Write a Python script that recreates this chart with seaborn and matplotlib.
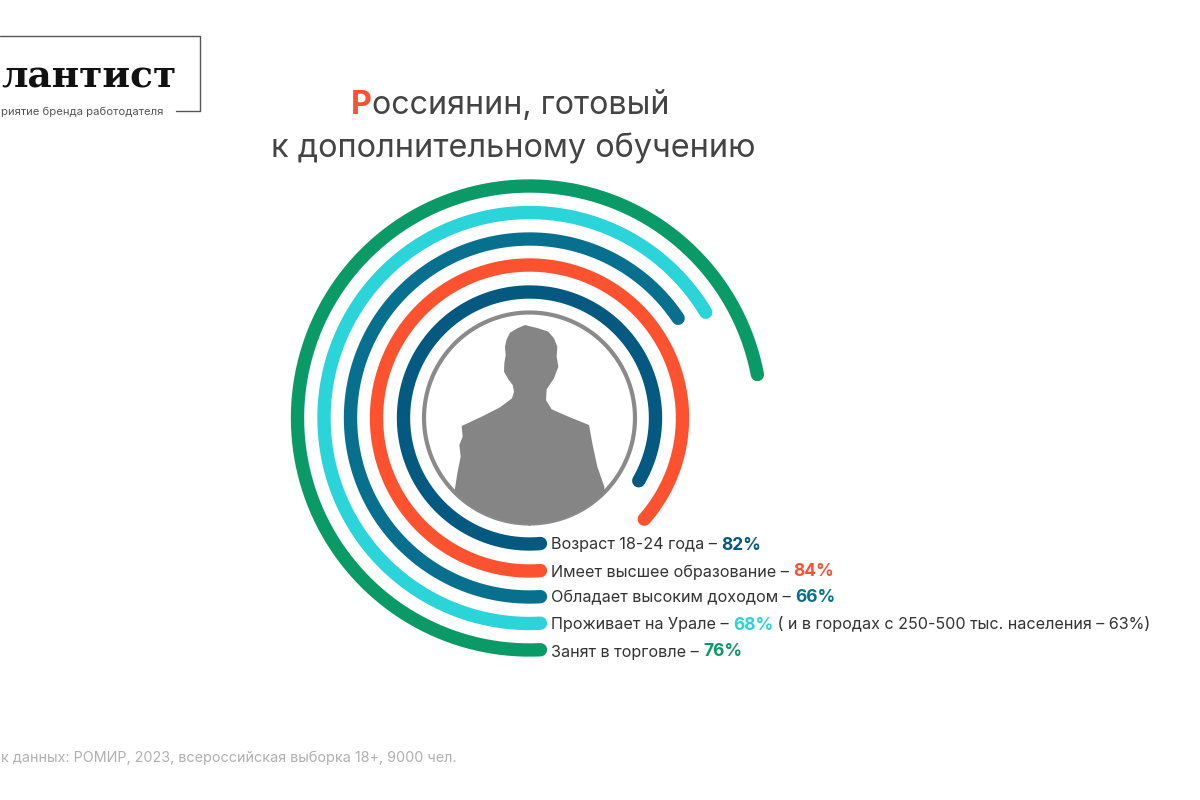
import numpy as np
import pandas as pd
import matplotlib.pyplot as plt
from matplotlib.patches import Circle, Polygon
import seaborn as sns

# inner ring first
labels = ['Возраст 18-24 года – ', 'Имеет высшее образование – ', 'Обладает высоким доходом – ',
          'Проживает на Урале – ', 'Занят в торговле – ']
shown_pct = ['82%', '84%', '66%', '68%', '76%']
# how far each arc really runs in the picture, percent of a full turn
arc_pct = [83.3, 86.5, 65.6, 66.4, 72.0]
colors = ['#03597f', '#fd5230', '#07708f', '#2bd4d9', '#0a9a68']
note = ' ( и в городах с 250-500 тыс. населения – 63%)'

title_first = 'Р'
title_rest = 'оссиянин, готовый'
title_line2 = 'к дополнительному обучению'
logo = 'лантист'
logo_sub = 'риятие бренда работодателя'
source = 'к данных: РОМИР, 2023, всероссийская выборка 18+, 9000 чел.'

radii = [126, 153, 179, 205.5, 232]
cx, cy, rmax = 529.5, 418, 250

sns.set_theme(style='white')
plt.rcParams['font.family'] = ['Inter', 'DejaVu Sans']
fig = plt.figure(figsize=(12, 8), dpi=100, facecolor='white')

# rings, radius is in pixels
ax = fig.add_axes([(cx - rmax) / 1200, (800 - cy - rmax) / 800, 2 * rmax / 1200, 2 * rmax / 800], projection='polar')
ax.set_theta_zero_location('S')
ax.set_theta_direction(-1)
rows = []
for lab, pct, r in zip(labels, arc_pct, radii):
    # tail of 11 px past the bottom towards the label
    th = np.linspace(-11 / r, pct / 100 * 2 * np.pi, 400)
    rows.append(pd.DataFrame({'theta': th, 'r': r, 'label': lab}))
df = pd.concat(rows)
sns.lineplot(data=df, x='theta', y='r', hue='label', palette=dict(zip(labels, colors)), estimator=None,
             sort=False, linewidth=9.6, legend=False, ax=ax, solid_capstyle='round')
ax.plot(np.linspace(0, 2 * np.pi, 400), np.full(400, 105.5), color='#8a8a8a', lw=3)
ax.set_ylim(0, rmax)
ax.set_axis_off()

# overlay in pixel coordinates
ov = fig.add_axes([0, 0, 1, 1])
ov.set_xlim(0, 1200)
ov.set_ylim(800, 0)
ov.set_axis_off()
ov.patch.set_alpha(0)

person = np.array([(345, 45), (322, 55), (300, 68), (290, 88), (285, 110), (287, 135), (283, 160), (282, 185), (295, 208),
                   (308, 225), (312, 245), (306, 265), (270, 292), (215, 320), (155, 348), (158, 380), (148, 405),
                   (152, 440), (142, 490), (135, 535), (135, 700), (590, 700), (583, 530), (562, 470), (548, 405),
                   (537, 345), (480, 322), (425, 298), (408, 270), (410, 238), (432, 205), (445, 170), (440, 140),
                   (442, 110), (432, 85), (415, 65), (385, 55)]) / 3 + [410, 310]
body = Polygon(person, closed=True, fc='#858585', ec='none')
ov.add_patch(body)
body.set_clip_path(Circle((cx + 0.5, cy), 105.5, transform=ov.transData))

rend = fig.canvas.get_renderer()


def after(txt):
    # right edge of a text in overlay pixels
    return txt.get_window_extent(rend).x1


# logo
ov.plot([0, 200, 200, 176], [35.5, 35.5, 111, 111], color='#555555', lw=1)
ov.text(176, 88, logo, family=['DejaVu Serif'], fontweight='bold', fontsize=27, color='#111111', ha='right', va='baseline')
ov.text(163, 115, logo_sub, fontsize=8.1, color='#555555', ha='right', va='baseline')

# title
t = ov.text(351, 114, title_first, fontsize=23.2, color='#fd5230', fontweight='bold', va='baseline')
ov.text(after(t), 114, title_rest, fontsize=23.2, color='#444444', va='baseline')
ov.text(513, 158, title_line2, fontsize=23.4, color='#444444', ha='center', va='baseline')

# labels next to the ring ends
for i, y in enumerate([549.5, 576.5, 602.5, 629.5, 656.5]):
    a = ov.text(551, y, labels[i].rstrip() + ' ', fontsize=11.65, color='#333333', va='baseline')
    b = ov.text(after(a), y, shown_pct[i], fontsize=12.5, fontweight='bold', color=colors[i], va='baseline')
    if i == 3:
        ov.text(after(b), y, note, fontsize=11.6, color='#333333', va='baseline')

ov.text(1, 762, source, fontsize=10.35, color='#b0b0b0', va='baseline')

plt.savefig('out.png', dpi=100)
